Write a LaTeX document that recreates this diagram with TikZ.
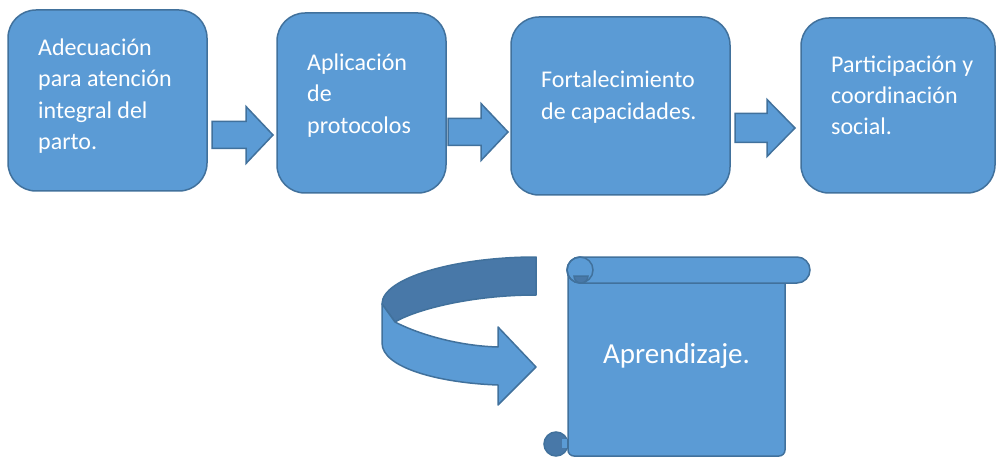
\documentclass[tikz,border=0pt]{standalone}
\usepackage{fontspec}
\setmainfont{Carlito}
\usetikzlibrary{positioning}

\definecolor{boxfill}{HTML}{5B9BD5}
\definecolor{boxline}{HTML}{41719C}
\definecolor{bandback}{HTML}{4878A8}

\begin{document}
\begin{tikzpicture}[x=1pt, y=-1pt,
    stepbox/.style={draw=boxline, fill=boxfill, line width=1.5pt, rounded corners=28, inner sep=0pt},
    steptext/.style={anchor=north west, inner sep=0pt, align=left, text=white,
      font=\fontsize{24}{31.2}\selectfont, execute at begin node=\strut},
    blockarrow/.style={draw=boxline, fill=boxfill, line width=1.5pt, line join=miter},
    scrollbox/.style={draw=boxline, fill=boxfill, line width=1.5pt},
    curl/.style={draw=boxline, fill=bandback, line width=1.5pt}]
  \useasboundingbox (0,0) rectangle (996,457);

  % steps
  \node[stepbox, minimum width=199, minimum height=181] (adec) at (107.5,100.5) {};
  \node[stepbox, minimum width=169, minimum height=180] (aplic) at (361.5,103) {};
  \node[stepbox, minimum width=219, minimum height=178] (fort) at (620.5,106) {};
  \node[stepbox, minimum width=194, minimum height=175] (part) at (898,105.5) {};

  \node[steptext] (adec-t) at (38,38.8) {Adecuación\\para atención\\integral del\\parto.};
  \node[steptext] (aplic-t) at (307,53.8) {Aplicación\\de\\protocolos};
  \node[steptext] (fort-t) at (541,71) {Fortalecimiento\\de capacidades.};
  \node[steptext] (part-t) at (831,55.3) {Participación y\\coordinación\\social.};

  % block arrows between the steps
  \foreach \xa/\xb/\xc/\yc/\hs in {212/246/273/135/13.5, 448/481/508/132/13.5, 735/767/795/128/14.5} {
    \draw[blockarrow] (\xa,\yc-\hs) -- (\xb,\yc-\hs) -- (\xb,\yc-28.5) -- (\xc,\yc)
      -- (\xb,\yc+28.5) -- (\xb,\yc+\hs) -- (\xa,\yc+\hs) -- cycle;
  }

  % turning arrow
  \draw[curl, line join=round] (536,257) .. controls (455,257) and (382,278) .. (382,304)
    -- (395,322) .. controls (415,310) and (470,295) .. (536,295) -- cycle;
  \draw[blockarrow, line join=round] (382,304) -- (395,322) .. controls (420,335) and (460,346) .. (498,347)
    -- (498,327) -- (536,367) -- (498,405) -- (498,385)
    .. controls (440,383) and (382,368) .. (382,343) -- cycle;

  % scroll
  \draw[scrollbox, rounded corners=6] (568,270) -- (568,456) -- (785,456) -- (785,270) -- cycle;
  \draw[scrollbox, rounded corners=13] (567,257) rectangle (810,283);
  \draw[boxline, line width=1.5pt] (580,270) circle (13);
  \draw[curl] (574,276) arc (180:0:7) -- cycle;
  \draw[curl] (556,444) circle (12);
  \fill[boxfill] (562,439) rectangle (567,448);
  \node[text=white, font=\fontsize{29}{35}\selectfont, anchor=base, inner sep=0pt] (apren) at (676.5,363) {Aprendizaje.};
\end{tikzpicture}
\end{document}
